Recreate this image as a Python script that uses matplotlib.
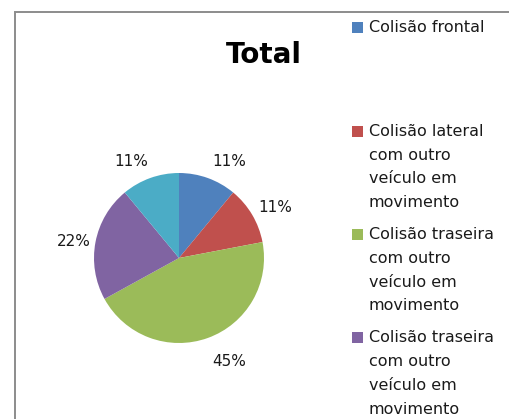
import textwrap
import numpy as np
import matplotlib
matplotlib.use("Agg")
import matplotlib.pyplot as plt
from matplotlib.patches import Rectangle

# dados
categorias = [
    "Colisão frontal",
    "Colisão lateral com outro veículo em movimento",
    "Colisão traseira com outro veículo em movimento",
    "Colisão traseira com outro veículo em movimento",
    "Outros",
]
valores = [11, 11, 45, 22, 11]
cores = ["#4F81BD", "#C0504D", "#9BBB59", "#8064A2", "#4BACC6"]
titulo = "Total"

W, H = 509, 419

def fx(px):
    return px / W

def fy(py):
    return 1 - py / H

def main():
    plt.rcParams['font.family'] = ['DejaVu Sans']
    fig = plt.figure(figsize=(W / 100, H / 100), dpi=100)

    # borda da area do grafico (cortada a direita e embaixo)
    fig.patches.append(Rectangle((fx(15), fy(H + 20)), fx(W + 40), fy(12) - fy(H + 20),
                                 transform=fig.transFigure, fill=False,
                                 edgecolor="#8c8c8c", linewidth=1.4))

    # pizza
    cx, cy, r = 179, 258, 85
    lim = 1.5
    side = 2 * lim * r
    ax = fig.add_axes([fx(cx - side / 2), fy(cy + side / 2), side / W, side / H])
    wedges, _ = ax.pie(valores, colors=cores, startangle=90, counterclock=False,
                       wedgeprops={'linewidth': 0})
    ax.set_xlim(-lim, lim)
    ax.set_ylim(-lim, lim)
    ax.set_aspect('equal')
    ax.axis('off')

    # rotulos de porcentagem, "extremidade externa" como no Excel
    total = float(sum(valores))
    for w, v in zip(wedges, valores):
        ang = np.deg2rad((w.theta1 + w.theta2) / 2)
        c, s = np.cos(ang), np.sin(ang)
        ax.annotate("%d%%" % round(100 * v / total), xy=(1.047 * c, 1.047 * s),
                    xytext=(3 if c >= 0 else -1, 16.8 * s - 3.5),
                    textcoords='offset pixels',
                    ha='left' if c >= 0 else 'right', va='center',
                    fontsize=11, color='#1a1a1a')

    # titulo
    fig.text(fx(264), fy(63), titulo, ha='center', va='baseline',
             fontsize=20, fontweight='bold', color='black')

    # legenda (a ultima entrada fica fora da imagem, como no original)
    y0, passo, linha = 28, 103.3, 23.8
    for i, (cat, cor) in enumerate(zip(categorias, cores)):
        y = y0 + i * passo
        if y > H:
            break
        fig.patches.append(Rectangle((fx(352), fy(y + 5.5)), fx(11), 11 / H,
                                     transform=fig.transFigure, facecolor=cor,
                                     edgecolor='none'))
        for j, txt in enumerate(textwrap.wrap(cat, 16)):
            fig.text(fx(369), fy(y + j * linha), txt, ha='left', va='center',
                     fontsize=11.5, color='#1a1a1a')

    fig.savefig("out.png", dpi=100)

if __name__ == "__main__":
    main()
